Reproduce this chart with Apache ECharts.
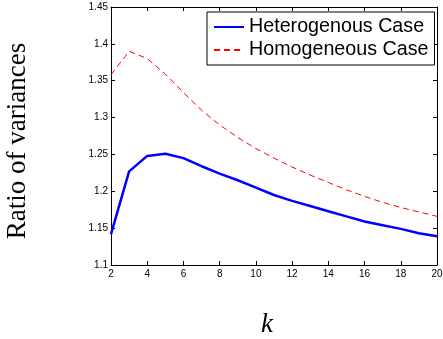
<!DOCTYPE html>
<html>
<head>
<meta charset="utf-8">
<script src="https://cdn.jsdelivr.net/npm/echarts@6/dist/echarts.min.js"></script>
<style>
  html, body { margin: 0; padding: 0; background: #fff; }
  #chart { width: 443px; height: 339px; }
</style>
</head>
<body>
<div id="chart"></div>
<script>
// k values and the two variance ratio curves
const kValues = [2, 3, 4, 5, 6, 7, 8, 9, 10, 11, 12, 13, 14, 15, 16, 17, 18, 19, 20]
const heterogenous = [1.142, 1.227, 1.248, 1.251, 1.245, 1.234, 1.224, 1.215, 1.205, 1.195,
  1.187, 1.180, 1.173, 1.166, 1.159, 1.154, 1.149, 1.143, 1.139]
const homogeneous = [1.358, 1.390, 1.380, 1.359, 1.334, 1.310, 1.290, 1.273, 1.258, 1.245,
  1.233, 1.222, 1.212, 1.202, 1.193, 1.185, 1.178, 1.172, 1.166]
const seriesNames = ["Heterogenous Case", "Homogeneous Case"]

const chart = echarts.init(document.getElementById("chart"))

const tickFont = { fontFamily: "Liberation Sans, Arial, sans-serif", fontSize: 10, color: "#000" }
const boxAxis = {
  axisLine: { show: true, onZero: false, lineStyle: { color: "#000", width: 1 } },
  axisTick: { show: true, inside: true, length: 4, lineStyle: { color: "#000" } },
  splitLine: { show: false },
}

const pairs = (ys) => kValues.map((k, i) => [k, ys[i]])

chart.setOption({
  animation: false,
  backgroundColor: "#fff",
  grid: { left: 111, right: 6, top: 7, bottom: 74, outerBoundsMode: "none", containLabel: false },
  legend: {
    orient: "vertical",
    left: 207,
    top: 12,
    padding: [5, 6, 5, 6],
    itemGap: 3,
    itemWidth: 30,
    itemHeight: 14,
    backgroundColor: "#fff",
    borderColor: "#000",
    borderWidth: 1,
    borderRadius: 0,
    itemStyle: { opacity: 0 },
    textStyle: { fontFamily: "Liberation Sans, Arial, sans-serif", fontSize: 19.7, color: "#000" },
    data: seriesNames,
  },
  xAxis: [
    {
      type: "value", min: 2, max: 20, interval: 2, position: "bottom",
      ...boxAxis,
      axisLabel: { ...tickFont, margin: 4 },
      name: "k",
      nameLocation: "middle",
      nameGap: 46,
      nameTextStyle: { fontFamily: "Liberation Serif, Times New Roman, serif", fontStyle: "italic", fontSize: 27, color: "#000", padding: [0, 14, 0, 0] },
    },
    {
      type: "value", min: 2, max: 20, interval: 2, position: "top",
      ...boxAxis,
      axisLabel: { show: false },
    },
  ],
  yAxis: [
    {
      type: "value", min: 1.1, max: 1.45, interval: 0.05, position: "left",
      ...boxAxis,
      axisLabel: { ...tickFont, margin: 3, formatter: (v) => String(parseFloat(v.toFixed(2))) },
      name: "Ratio of variances",
      nameLocation: "middle",
      nameGap: 80,
      nameTextStyle: { fontFamily: "Liberation Serif, Times New Roman, serif", fontSize: 27, color: "#000", padding: [0, 10, 0, 0] },
    },
    {
      type: "value", min: 1.1, max: 1.45, interval: 0.05, position: "right",
      ...boxAxis,
      axisLabel: { show: false },
    },
  ],
  series: [
    {
      name: seriesNames[0],
      type: "line",
      data: pairs(heterogenous),
      symbol: "none",
      lineStyle: { color: "#0000ff", width: 2.5 },
      itemStyle: { color: "#0000ff" },
    },
    {
      name: seriesNames[1],
      type: "line",
      data: pairs(homogeneous),
      symbol: "none",
      lineStyle: { color: "#ff0000", width: 1, type: [6, 4] },
      itemStyle: { color: "#ff0000" },
    },
  ],
})
</script>
</body>
</html>
